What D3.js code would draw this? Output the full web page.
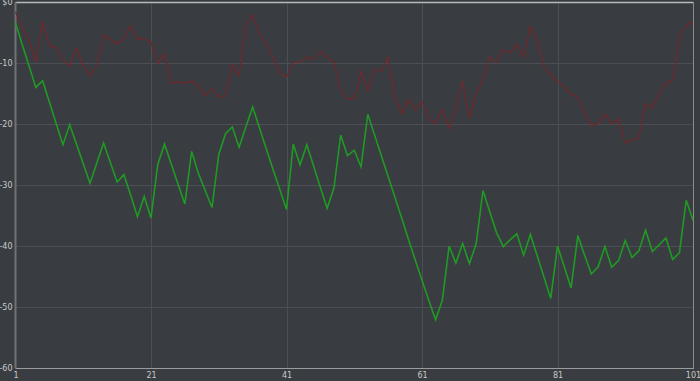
<!DOCTYPE html>
<html><head><meta charset="utf-8">
<script src="https://cdn.jsdelivr.net/npm/d3@7"></script>
<style>
html,body{margin:0;padding:0;background:#393c40;overflow:hidden;}
svg{display:block;}
</style></head>
<body>
<svg id="chart" width="700" height="381"></svg>
<script>
const xTicks = [1, 21, 41, 61, 81, 101];
const yTicks = [0, -10, -20, -30, -40, -50, -60];
const yTickLabels = ["$0", "$-10", "$-20", "$-30", "$-40", "$-50", "$-60"];

const greenSeries = [
 -3.4, -7.0, -10.5, -14.0, -12.9, -16.4, -19.9, -23.4, -20.1, -23.3,
 -26.5, -29.7, -26.4, -23.1, -26.3, -29.5, -28.3, -31.7, -35.2, -31.9,
 -35.4, -26.6, -23.3, -26.6, -29.9, -33.1, -24.5, -28.1, -30.9, -33.7,
 -25.0, -21.6, -20.5, -23.8, -20.5, -17.2, -20.6, -24.0, -27.4, -30.7,
 -34.0, -23.3, -26.7, -23.4, -26.9, -30.4, -33.8, -30.5, -21.8, -25.2,
 -24.3, -27.0, -18.4, -21.8, -25.2, -28.6, -32.0, -35.4, -38.9, -42.3,
 -45.6, -48.9, -52.1, -48.9, -40.0, -42.8, -39.6, -42.9, -39.6, -30.9,
 -34.4, -37.8, -40.1, -39.0, -38.0, -41.5, -38.1, -41.6, -45.1, -48.6,
 -40.0, -43.4, -46.9, -38.3, -41.5, -44.6, -43.4, -40.1, -43.5, -42.4,
 -39.1, -41.9, -40.8, -37.4, -40.9, -39.8, -38.7, -42.2, -41.1, -32.5,
 -35.8
];
const redSeries = [
 -1.6, -4.3, -6.2, -9.8, -3.2, -7.2, -7.5, -9.5, -10.5, -7.6,
 -10.4, -12.1, -10.5, -5.4, -6.1, -6.9, -6.0, -3.9, -6.1, -6.0,
 -6.6, -10.1, -8.5, -13.3, -13.1, -13.3, -12.9, -13.8, -15.4, -14.2,
 -15.5, -15.4, -10.2, -12.1, -3.8, -2.0, -5.3, -6.8, -9.1, -11.7,
 -12.3, -9.9, -9.9, -9.0, -9.4, -8.1, -9.1, -9.9, -14.4, -15.9,
 -15.9, -11.3, -14.6, -11.0, -11.4, -9.0, -15.6, -18.3, -16.0, -17.7,
 -16.3, -19.1, -19.9, -17.6, -20.7, -17.2, -12.9, -19.1, -15.0, -12.8,
 -9.0, -9.9, -7.8, -8.3, -7.0, -9.0, -4.0, -6.2, -10.7, -12.0,
 -13.1, -13.9, -15.1, -15.6, -18.2, -20.3, -19.9, -18.4, -20.0, -19.2,
 -23.2, -22.6, -22.3, -16.7, -17.4, -14.9, -13.3, -12.8, -5.4, -3.9,
 -3.2
];

const svg = d3.select("#chart");
const W = 700, H = 381;
const padL = 15.5, padR = 693, padT = 2, padB = 368;

const x = d3.scaleLinear().domain([1, 101]).range([padL, padR]);
const y = d3.scaleLinear().domain([-60, 0]).range([padB, padT]);

svg.append("rect").attr("width", W).attr("height", H).attr("fill", "#393c40");

// grid
svg.append("g").selectAll("line").data(yTicks.filter(d => d !== 0 && d !== -60))
  .join("line").attr("x1", padL).attr("x2", padR)
  .attr("y1", d => Math.round(y(d)) + 0.5).attr("y2", d => Math.round(y(d)) + 0.5)
  .attr("stroke", "#4b4e52").attr("stroke-width", 1);
svg.append("g").selectAll("line").data(xTicks.filter(d => d !== 1 && d !== 101))
  .join("line").attr("y1", padT).attr("y2", padB)
  .attr("x1", d => Math.round(x(d)) + 0.5).attr("x2", d => Math.round(x(d)) + 0.5)
  .attr("stroke", "#4b4e52").attr("stroke-width", 1);

// frame
svg.append("line").attr("x1", padL).attr("x2", padR).attr("y1", padT + 0.5).attr("y2", padT + 0.5)
  .attr("stroke", "#b8babc").attr("stroke-width", 1.5);
svg.append("line").attr("x1", padR + 0.5).attr("x2", padR + 0.5).attr("y1", padT).attr("y2", padB)
  .attr("stroke", "#8a8c8f").attr("stroke-width", 1);
svg.append("line").attr("x1", padL).attr("x2", padL).attr("y1", padT).attr("y2", padB)
  .attr("stroke", "#6f7276").attr("stroke-width", 2);
svg.append("line").attr("x1", padL).attr("x2", padR + 1).attr("y1", padB + 0.5).attr("y2", padB + 0.5)
  .attr("stroke", "#9a9c9f").attr("stroke-width", 1);

// lines
const line = d3.line().x((d, i) => x(i + 1)).y(d => y(d));
svg.append("path").datum(redSeries).attr("d", line)
  .attr("fill", "none").attr("stroke", "#6e2a2e").attr("stroke-width", 1.3)
  .attr("stroke-linejoin", "miter");
svg.append("path").datum(greenSeries).attr("d", line)
  .attr("fill", "none").attr("stroke", "#1f9a24").attr("stroke-width", 1.6)
  .attr("stroke-linejoin", "miter");

// y axis labels
const yAxis = d3.axisLeft(y).tickValues(yTicks).tickSize(0).tickPadding(2)
  .tickFormat((d, i) => yTickLabels[i]);
const gy = svg.append("g").attr("transform", `translate(${padL - 1},0)`).call(yAxis);
gy.select(".domain").remove();
gy.selectAll("text").attr("fill", "#c8c9cb").style("font-family", "DejaVu Sans, sans-serif").style("font-size", "8px");

// x axis labels
const xAxis = d3.axisBottom(x).tickValues(xTicks).tickSize(0).tickPadding(4).tickFormat(d3.format("d"));
const gx = svg.append("g").attr("transform", `translate(0,${padB})`).call(xAxis);
gx.select(".domain").remove();
gx.selectAll("text").attr("fill", "#c8c9cb").style("font-family", "DejaVu Sans, sans-serif").style("font-size", "8px");
</script>
</body></html>
